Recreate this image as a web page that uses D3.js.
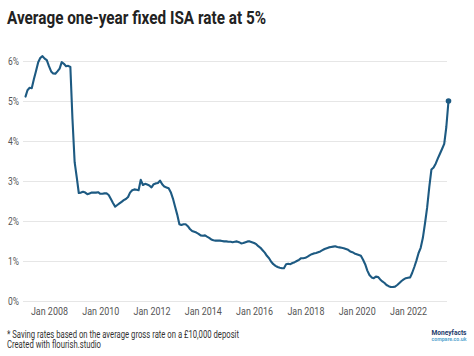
<!DOCTYPE html>
<html>
<head>
<meta charset="utf-8">
<script src="https://cdn.jsdelivr.net/npm/d3@7"></script>
<style>
  html, body { margin: 0; padding: 0; background: #fff; }
  svg { display: block; font-family: Roboto, "Noto Sans", sans-serif; }
</style>
</head>
<body>
<svg id="chart" width="474" height="356"></svg>
<script>
// ---- Data ----
const titleText = "Average one-year fixed ISA rate at 5%";
const footnoteText = "* Saving rates based on the average gross rate on a £10,000 deposit";
const creditText = "Created with flourish.studio";
const firstMonth = "2007-02"; // monthly series, first observation
const rates = [
  // 2007 Feb-Dec
  5.11, 5.27, 5.33, 5.32, 5.55, 5.75, 5.97, 6.08, 6.12, 6.06, 6.02,
  // 2008
  5.87, 5.74, 5.69, 5.68, 5.74, 5.81, 5.97, 5.93, 5.87, 5.88, 5.85, 4.55,
  // 2009
  3.47, 3.08, 2.70, 2.71, 2.73, 2.71, 2.67, 2.69, 2.71, 2.71, 2.71, 2.72,
  // 2010
  2.68, 2.68, 2.69, 2.69, 2.65, 2.55, 2.45, 2.36, 2.40, 2.44, 2.48, 2.52,
  // 2011
  2.55, 2.60, 2.71, 2.77, 2.79, 2.78, 2.77, 3.03, 2.90, 2.93, 2.91, 2.89,
  // 2012
  2.84, 2.92, 2.94, 2.95, 3.01, 2.92, 2.86, 2.84, 2.82, 2.72, 2.56, 2.36,
  // 2013
  2.16, 1.92, 1.90, 1.92, 1.92, 1.87, 1.80, 1.75, 1.73, 1.71, 1.68, 1.64,
  // 2014
  1.63, 1.64, 1.61, 1.58, 1.54, 1.52, 1.51, 1.51, 1.51, 1.50, 1.49, 1.49,
  // 2015
  1.48, 1.48, 1.47, 1.48, 1.49, 1.47, 1.44, 1.45, 1.47, 1.49, 1.49, 1.47,
  // 2016
  1.45, 1.42, 1.37, 1.33, 1.27, 1.21, 1.13, 1.07, 0.98, 0.92, 0.88, 0.85,
  // 2017
  0.83, 0.82, 0.82, 0.92, 0.93, 0.92, 0.95, 0.97, 1.00, 1.03, 1.07, 1.07,
  // 2018
  1.08, 1.11, 1.14, 1.17, 1.19, 1.20, 1.22, 1.24, 1.27, 1.30, 1.32, 1.34,
  // 2019
  1.35, 1.36, 1.37, 1.35, 1.34, 1.33, 1.32, 1.30, 1.28, 1.24, 1.22, 1.19,
  // 2020
  1.17, 1.15, 1.13, 1.03, 0.92, 0.76, 0.65, 0.59, 0.57, 0.61, 0.60, 0.54,
  // 2021
  0.49, 0.45, 0.40, 0.37, 0.35, 0.35, 0.36, 0.40, 0.45, 0.50, 0.54, 0.57,
  // 2022
  0.58, 0.59, 0.70, 0.85, 1.01, 1.20, 1.33, 1.58, 1.95, 2.34, 2.86, 3.29,
  // 2023 Jan-Aug
  3.34, 3.44, 3.56, 3.68, 3.80, 3.93, 4.35, 5.00
];
const yTickValues = [0, 1, 2, 3, 4, 5, 6];
const xTickYears = [2008, 2010, 2012, 2014, 2016, 2018, 2020, 2022];

// ---- Build series ----
const parseMonth = d3.timeParse("%Y-%m");
const start = parseMonth(firstMonth);
const series = rates.map((v, i) => ({ date: d3.timeMonth.offset(start, i), value: v }));

const svg = d3.select("#chart");
const lineColor = "#1d5a82";

const x = d3.scaleTime()
  .domain(d3.extent(series, d => d.date))
  .range([25.5, 448.5]);
const y = d3.scaleLinear().domain([0, 6]).range([301, 61]);

// Title
svg.append("text")
  .attr("x", 7).attr("y", 24)
  .attr("font-size", 19).attr("font-weight", 700)
  .attr("fill", "#222")
  .attr("textLength", 259).attr("lengthAdjust", "spacingAndGlyphs")
  .text(titleText);

// Gridlines + y labels
const yAxis = d3.axisLeft(y).tickValues(yTickValues).tickSize(-(447 - 23)).tickFormat(d => d + "%");
const gy = svg.append("g").attr("transform", "translate(23,0)").call(yAxis);
gy.select(".domain").remove();
gy.selectAll(".tick line").attr("stroke", "#e6e6e6").attr("stroke-width", 1);
gy.selectAll(".tick text")
  .attr("x", -15).attr("text-anchor", "start")
  .attr("font-size", 11.5).attr("fill", "#555")
  .attr("font-family", "Roboto, sans-serif")
  .attr("textLength", 11).attr("lengthAdjust", "spacingAndGlyphs");

// X axis labels
const xAxis = d3.axisBottom(x)
  .tickValues(xTickYears.map(yr => new Date(yr, 0, 1)))
  .tickSize(0)
  .tickFormat(d3.timeFormat("Jan %Y"));
const gx = svg.append("g").attr("transform", "translate(0,301)").call(xAxis);
gx.select(".domain").remove();
gx.selectAll(".tick text")
  .attr("y", 14).attr("dy", 0)
  .attr("font-size", 11.5).attr("fill", "#555")
  .attr("font-family", "Roboto, sans-serif")
  .attr("textLength", 37).attr("lengthAdjust", "spacingAndGlyphs");

// Line
const line = d3.line().x(d => x(d.date)).y(d => y(d.value)).curve(d3.curveLinear);
svg.append("path")
  .datum(series)
  .attr("fill", "none")
  .attr("stroke", lineColor)
  .attr("stroke-width", 2.1)
  .attr("stroke-linejoin", "round")
  .attr("stroke-linecap", "round")
  .attr("d", line);

// End dot
const last = series[series.length - 1];
svg.append("circle")
  .attr("cx", x(last.date)).attr("cy", y(last.value))
  .attr("r", 2.8).attr("fill", lineColor);

// Footer
svg.append("text")
  .attr("x", 7).attr("y", 337.5)
  .attr("font-size", 10).attr("fill", "#333")
  .attr("textLength", 232).attr("lengthAdjust", "spacingAndGlyphs")
  .text(footnoteText);
svg.append("text")
  .attr("x", 7).attr("y", 347.5)
  .attr("font-size", 10).attr("fill", "#333")
  .attr("textLength", 94).attr("lengthAdjust", "spacingAndGlyphs")
  .text(creditText);

// Logo
svg.append("text")
  .attr("x", 449).attr("y", 335).attr("text-anchor", "middle")
  .attr("font-size", 8).attr("font-weight", 700).attr("fill", "#1b3a6b")
  .attr("textLength", 35).attr("lengthAdjust", "spacingAndGlyphs")
  .text("Moneyfacts");
svg.append("text")
  .attr("x", 449).attr("y", 340.5).attr("text-anchor", "middle")
  .attr("font-size", 5).attr("font-weight", 700).attr("fill", "#5aa7d0")
  .attr("textLength", 35).attr("lengthAdjust", "spacingAndGlyphs")
  .text("compare.co.uk");
</script>
</body>
</html>
